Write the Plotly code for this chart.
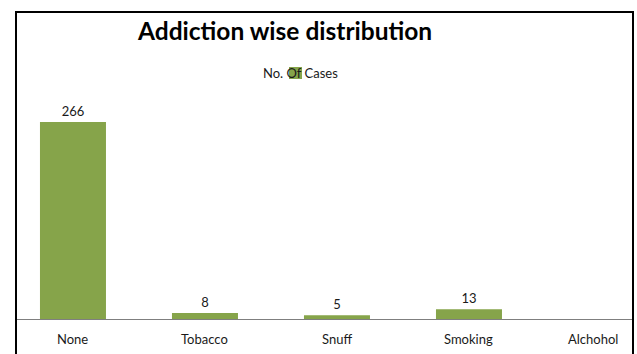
import plotly.graph_objects as go

categories = ["None", "Tobacco", "Snuff", "Smoking", "Alchohol"]
cases = [266, 8, 5, 13, 0]
label_text = ["266", "8", "5", "13", ""]
title_text = "Addiction wise distribution"
series_name = "No. Of Cases"

W, H = 637, 354
L, R, T, B = 17, 632, 14, 319   # plot area in pixels
pw, ph = R - L, B - T
y_top = (B - T) / (197 / 266)   # value at top of plot area (266 -> 197 px)

def px(x):
    return (x - L) / pw

def py(y):
    return (B - y) / ph

bar_color = "#86A44A"
font_family = "Lato, 'Open Sans', sans-serif"
text_color = "#1a1a1a"

fig = go.Figure()
fig.add_trace(go.Bar(
    x=list(range(len(categories))),
    y=cases,
    width=0.5,
    marker=dict(color=bar_color, line=dict(width=0)),
    text=label_text,
    textposition="outside",
    textfont=dict(size=13, color=text_color, family=font_family),
    cliponaxis=False,
    name=series_name,
    showlegend=False,
))

# category labels (last one nudged left, as the chart edge pushes it in)
label_shift = [0, 0, 0, 0, -8]
cat_annotations = [
    dict(text=c, xref="x", yref="paper", x=i, y=py(339), xshift=s,
         xanchor="center", yanchor="middle", showarrow=False,
         font=dict(size=13, color=text_color, family=font_family))
    for i, (c, s) in enumerate(zip(categories, label_shift))
]

fig.update_layout(
    width=W, height=H,
    margin=dict(l=L, r=W - R, t=T, b=H - B, pad=0),
    paper_bgcolor="white",
    plot_bgcolor="white",
    font=dict(family=font_family, color=text_color),
    bargap=0.5,
    xaxis=dict(
        range=[-0.424, 4.235],
        showticklabels=False,
        showgrid=False, zeroline=False,
        showline=True, linecolor="#7f7f7f", linewidth=1,
        ticks="",
    ),
    yaxis=dict(
        range=[0, y_top],
        visible=False,
        showgrid=False, zeroline=False,
    ),
    annotations=[
        dict(text="<b>" + title_text + "</b>", xref="paper", yref="paper",
             x=px(284), y=py(30), xanchor="center", yanchor="middle",
             showarrow=False, font=dict(size=24.5, color="#000000", family=font_family)),
        dict(text=series_name, xref="paper", yref="paper",
             x=px(300), y=py(73), xanchor="center", yanchor="middle",
             showarrow=False, font=dict(size=13, color=text_color, family=font_family)),
    ] + cat_annotations,
    shapes=[
        dict(type="rect", xref="paper", yref="paper", layer="below",
             x0=px(289), x1=px(302), y0=py(79), y1=py(67),
             fillcolor=bar_color, line=dict(width=0)),
        # chart border
        dict(type="rect", xref="paper", yref="paper", layer="above",
             x0=px(15), x1=px(17), y0=py(11), y1=py(370),
             fillcolor="#000000", line=dict(width=0)),
        dict(type="rect", xref="paper", yref="paper", layer="above",
             x0=px(632), x1=px(634), y0=py(11), y1=py(370),
             fillcolor="#000000", line=dict(width=0)),
        dict(type="rect", xref="paper", yref="paper", layer="above",
             x0=px(15), x1=px(634), y0=py(13), y1=py(11),
             fillcolor="#000000", line=dict(width=0)),
    ],
)

fig.write_html("out.html", config={"displayModeBar": False})
